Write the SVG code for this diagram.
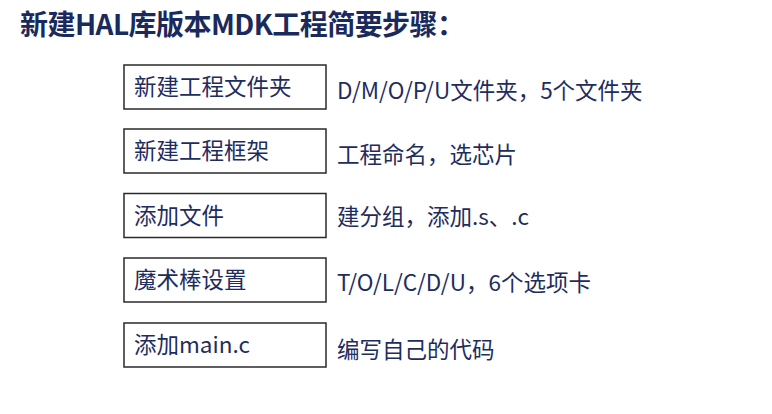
<svg xmlns="http://www.w3.org/2000/svg" width="772" height="414" viewBox="0 0 772 414">
<style>
.title{font-family:"Noto Sans CJK SC","Noto Sans",sans-serif;font-weight:bold;font-size:28px;fill:#1b2a5c}
.box{fill:#fff;stroke:#2a2a2a;stroke-width:1.5}
.lbl{font-family:"Noto Sans CJK SC","Noto Sans",sans-serif;font-size:22.5px;fill:#1e2d5e}
.desc{font-family:"Noto Sans CJK SC","Noto Sans",sans-serif;font-size:22.5px;fill:#1e2d5e}
</style>
<rect width="772" height="414" fill="#fff"/>
<text class="title" x="20" y="35" textLength="445" lengthAdjust="spacing">新建HAL库版本MDK工程简要步骤：</text>
<g id="step1"><rect class="box" x="124" y="65" width="202" height="44"/><text class="lbl" x="134" y="95">新建工程文件夹</text></g>
<g id="step2"><rect class="box" x="124" y="129" width="202" height="44"/><text class="lbl" x="134" y="159">新建工程框架</text></g>
<g id="step3"><rect class="box" x="124" y="193.5" width="202" height="44"/><text class="lbl" x="134" y="223.5">添加文件</text></g>
<g id="step4"><rect class="box" x="124" y="258" width="202" height="44"/><text class="lbl" x="134" y="288">魔术棒设置</text></g>
<g id="step5"><rect class="box" x="124" y="323" width="202" height="44"/><text class="lbl" x="134" y="353">添加main.c</text></g>
<g id="desc">
<text class="desc" x="337" y="99">D/M/O/P/U文件夹，5个文件夹</text>
<text class="desc" x="337" y="163">工程命名，选芯片</text>
<text class="desc" x="337" y="225">建分组，添加.s、.c</text>
<text class="desc" x="337" y="291">T/O/L/C/D/U，6个选项卡</text>
<text class="desc" x="337" y="358">编写自己的代码</text>
</g>
</svg>
